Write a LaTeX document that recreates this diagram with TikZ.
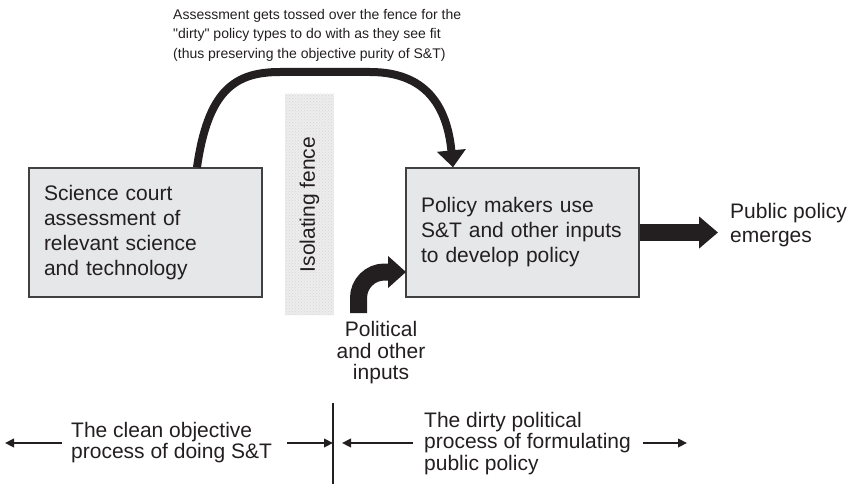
\documentclass[tikz,border=0pt]{standalone}
\usepackage{fontspec}
\setmainfont{Liberation Sans}
\newfontfamily\notefont{Liberation Sans}[Ligatures=TeXOff]
\usetikzlibrary{arrows.meta,patterns}
\definecolor{ink}{HTML}{231F20}
\definecolor{boxfill}{HTML}{E6E7E8}
\definecolor{boxline}{HTML}{414042}
\begin{document}
\begin{tikzpicture}[x=1pt,y=-1pt,
  bigtext/.style={font=\fontsize{21}{25}\selectfont, text=ink},
  procbox/.style={draw=boxline, line width=1.3pt, fill=boxfill,
    minimum width=233pt, minimum height=129pt, text width=203pt,
    inner xsep=15pt, inner ysep=0pt, align=left, bigtext},
  fencebox/.style={preaction={fill=gray!14}, pattern=crosshatch dots,
    pattern color=gray!32, minimum width=221pt, minimum height=49pt,
    inner sep=0pt, bigtext},
  notetext/.style={font=\notefont\fontsize{14}{19.5}\selectfont, text=ink, align=left, inner sep=0pt},
  plaintext/.style={font=\fontsize{21}{21.5}\selectfont, text=ink, inner sep=0pt},
  fatarrow/.style={draw=ink, line width=17pt, -{Triangle[length=18pt,width=31pt]}},
  tossarrow/.style={draw=ink, line width=8pt, -{Triangle[length=17pt,width=28pt]}},
  thinarrow/.style={draw=ink, line width=2.3pt, -{Triangle[length=9pt,width=8.5pt]}}
]
\useasboundingbox (0,0) rectangle (850,484);

% boxes
\node[procbox] (sc) at (145.5,232.5) {Science court\\assessment of\\relevant science\\and technology};
\node[procbox] (pm) at (522.5,232.5) {Policy makers use\\S\&T and other inputs\\to develop policy};

% fence
\node[fencebox, rotate=90] (fence) at (309.5,204.5) {Isolating fence};

% note text
\node[notetext, anchor=north west] (note) at (173,9)
  {Assessment gets tossed over the fence for the\\
   "dirty" policy types to do with as they see fit\\
   (thus preserving the objective purity of S\&T)};

% toss arrow
\draw[tossarrow] ([xshift=51.5pt]sc.north)
  .. controls (208,90) and (235,72) .. (280,72) -- (370,72)
  .. controls (425,72) and (447,105) .. ([xshift=-69.5pt]pm.north);

% political inputs
\node[plaintext, align=center] (pol) at (381,353) {Political\\and other\\inputs};
\coordinate (pstart) at (358.5,313);
\coordinate (pend) at (406,272);
\draw[fatarrow, rounded corners=26pt] (pstart) |- (pend);

% public policy
\node[plaintext, align=left, anchor=west, font=\fontsize{21}{24}\selectfont] (pp) at (730,225) {Public policy\\emerges};
\coordinate (ppend) at (718,232.5);
\draw[fatarrow, -{Triangle[length=19pt,width=31pt]}] (pm.east) -- (ppend);

% bottom
\coordinate (divtop) at (333,403);
\coordinate (divbot) at (333,484);
\draw[draw=ink, line width=1.2pt] (divtop) -- (divbot);

\node[plaintext, align=left, anchor=west] (clean) at (71,442.5) {The clean objective\\process of doing S\&T};
\node[plaintext, align=left, anchor=west] (dirty) at (424,443.5) {The dirty political\\process of formulating\\public policy};

\coordinate (a1s) at (62,443);  \coordinate (a1e) at (5,443);
\coordinate (a2s) at (287,443); \coordinate (a2e) at (333,443);
\coordinate (a3s) at (413,443); \coordinate (a3e) at (342,443);
\coordinate (a4s) at (643,443); \coordinate (a4e) at (687,443);
\draw[thinarrow] (a1s) -- (a1e);
\draw[thinarrow] (a2s) -- (a2e);
\draw[thinarrow] (a3s) -- (a3e);
\draw[thinarrow] (a4s) -- (a4e);
\end{tikzpicture}
\end{document}
